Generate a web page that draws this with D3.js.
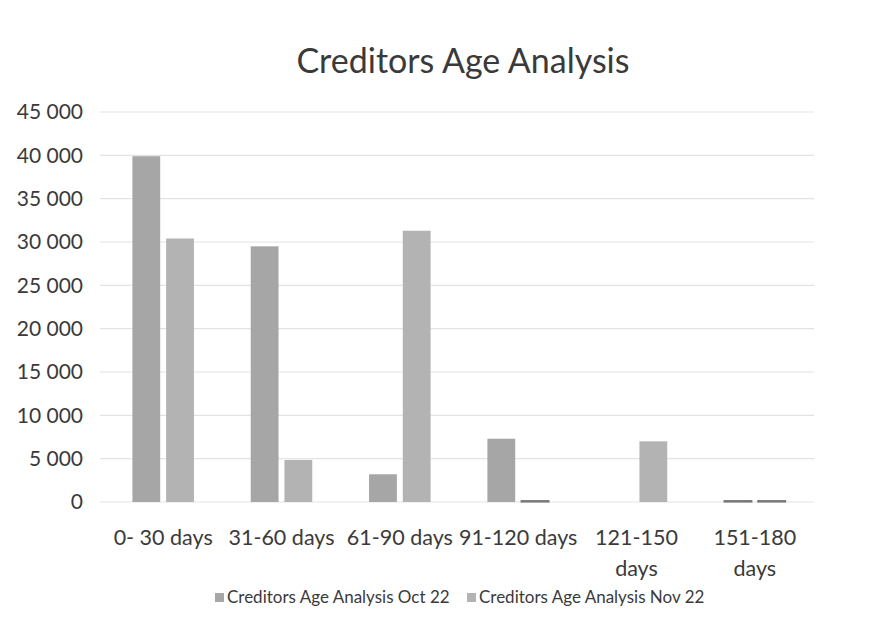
<!DOCTYPE html>
<html>
<head>
<meta charset="utf-8">
<script src="https://cdn.jsdelivr.net/npm/d3@7"></script>
<style>
  html, body { margin: 0; padding: 0; background: #fff; }
  svg { display: block; font-family: Lato, "Open Sans", sans-serif; }
</style>
</head>
<body>
<svg id="chart" width="896" height="627"></svg>
<script>
// Aged creditors, by ageing bucket
const categories = ["0- 30 days", "31-60 days", "61-90 days", "91-120 days", "121-150 days", "151-180 days"];
const seriesNames = ["Creditors Age Analysis Oct 22", "Creditors Age Analysis Nov 22"];
const octValues = [39900, 29500, 3200, 7300, 0, 150];
const novValues = [30400, 4850, 31300, 150, 7000, 150];
const yTicks = [0, 5000, 10000, 15000, 20000, 25000, 30000, 35000, 40000, 45000];
const seriesColors = ["#a6a6a6", "#b3b3b3"];

const svg = d3.select("#chart");
const margin = { left: 104, right: 82, top: 112, bottom: 125 };
const W = 896, H = 627;

const x = d3.scaleBand().domain(categories).range([margin.left, W - margin.right]);
const y = d3.scaleLinear().domain([0, 45000]).range([H - margin.bottom, margin.top]);

// gridlines
svg.append("g").selectAll("line").data(yTicks).join("line")
  .attr("x1", 100).attr("x2", W - margin.right)
  .attr("y1", d => y(d)).attr("y2", d => y(d))
  .attr("stroke", "#e3e3e3").attr("stroke-width", 1.2);

// y axis labels
const fmt = d => d3.format(",")(d).replace(/,/g, " ");
const yAxis = d3.axisLeft(y).tickValues(yTicks).tickFormat(fmt).tickSize(0).tickPadding(0);
const ya = svg.append("g").attr("transform", "translate(83,0)").call(yAxis);
ya.select(".domain").remove();
ya.selectAll("text").attr("font-size", 21).attr("fill", "#3a3a3a")
  .attr("font-family", "Lato, sans-serif");

// bars
const barW = x.bandwidth() * 0.235;
const inner = x.bandwidth() * 0.05;
const data = categories.map((c, i) => ({ c, v: [octValues[i], novValues[i]] }));
const groups = svg.append("g").selectAll("g").data(data).join("g");
groups.selectAll("rect").data(d => d.v.map((v, k) => ({ c: d.c, v, k }))).join("rect")
  .attr("x", d => x(d.c) + x.bandwidth() / 2 + (d.k === 0 ? -(inner / 2 + barW) : inner / 2))
  .attr("width", barW)
  .attr("y", d => y(d.v))
  .attr("height", d => y(0) - y(d.v))
  .attr("fill", d => seriesColors[d.k])
  .attr("stroke", d => d.v > 0 && d.v < 1000 ? "#666" : "none")
  .attr("stroke-width", 1);

// x axis labels
const xl = svg.append("g");
categories.forEach(c => {
  const m = c.match(/^(\d+-\d+) days$/);
  const lines = (m && c.length > 11) ? [m[1], "days"] : [c];
  const t = xl.append("text")
    .attr("x", x(c) + x.bandwidth() / 2).attr("y", 545)
    .attr("text-anchor", "middle").attr("font-size", 21.5).attr("fill", "#3a3a3a");
  lines.forEach((l, i) => t.append("tspan").attr("x", x(c) + x.bandwidth() / 2).attr("dy", i ? 31 : 0).text(l));
});

// title
svg.append("text").attr("x", 463).attr("y", 73).attr("text-anchor", "middle")
  .attr("font-size", 34).attr("fill", "#3a3a3a").text("Creditors Age Analysis");

// legend
const legend = svg.append("g").attr("font-size", 17).attr("fill", "#3a3a3a");
const legendX = [215, 467];
seriesNames.forEach((n, i) => {
  legend.append("rect").attr("x", legendX[i]).attr("y", 593).attr("width", 9).attr("height", 9)
    .attr("fill", seriesColors[i]);
  legend.append("text").attr("x", legendX[i] + 12).attr("y", 603).text(n);
});
</script>
</body>
</html>
